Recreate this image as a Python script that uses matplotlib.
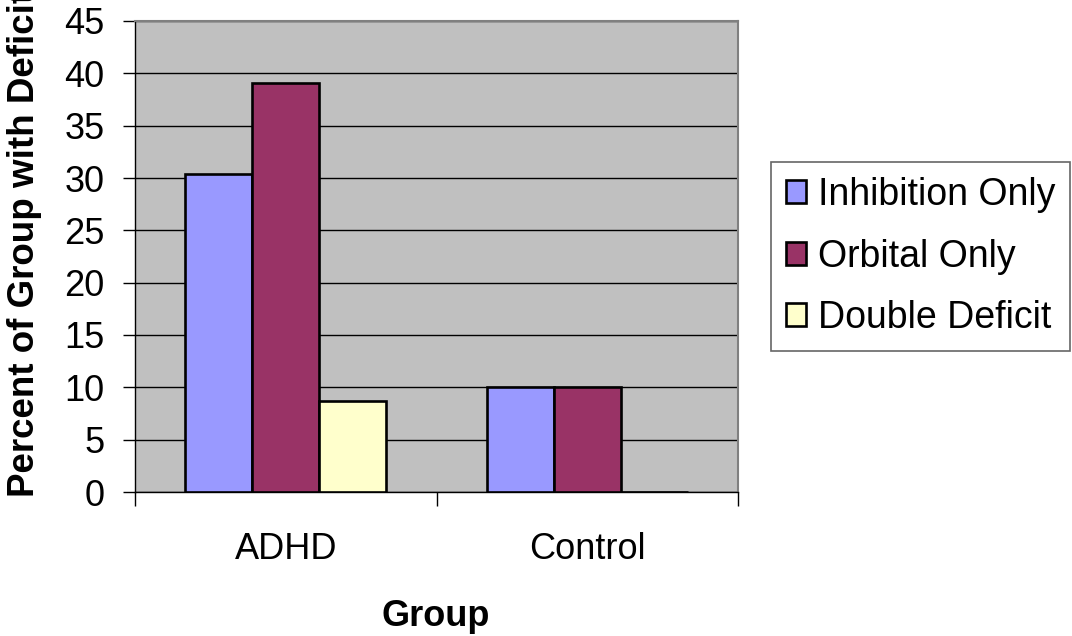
import matplotlib as mpl
import matplotlib.pyplot as plt
import numpy as np

groups = ["ADHD", "Control"]
series = ["Inhibition Only", "Orbital Only", "Double Deficit"]
inhibition = [30.4, 10.0]
orbital = [39.1, 10.0]
double_deficit = [8.7, 0.0]
yticks = [0, 5, 10, 15, 20, 25, 30, 35, 40, 45]

colors = ["#9999FF", "#993366", "#FFFFCC"]

plt.rcParams["font.family"] = ["Liberation Sans", "DejaVu Sans"]

fig = plt.figure(figsize=(10.72, 6.36), dpi=100)
ax = fig.add_axes([135 / 1072, 1 - 492 / 636, (738 - 135) / 1072, (492 - 21) / 636])
ax.set_facecolor("#C0C0C0")

# excel style: gap width 150% -> bar width 1/4.5 of a category
x = np.arange(len(groups))
w = 1 / 4.5
for i, (vals, name) in enumerate(zip([inhibition, orbital, double_deficit], series)):
    ax.bar(x + (i - 1) * w, vals, w, color=colors[i], edgecolor="black",
           linewidth=1.9, label=name, zorder=3)

ax.set_xlim(-0.5, len(groups) - 0.5)
ax.set_ylim(0, 45)
ax.set_yticks(yticks)
ax.tick_params(axis="y", direction="out", length=9, width=1, labelsize=26, pad=13)
ax.yaxis.grid(True, color="black", linewidth=1, zorder=1)

# category labels at centers, tick marks at the boundaries
ax.set_xticks(np.arange(len(groups) + 1) - 0.5)
ax.set_xticklabels([])
ax.tick_params(axis="x", which="major", direction="out", length=10, width=1)
ax.set_xticks(x, minor=True)
ax.set_xticklabels(groups, minor=True)
ax.tick_params(axis="x", which="minor", length=0, labelsize=26, pad=29)

for s in ["top", "right"]:
    ax.spines[s].set_color("#808080")
    ax.spines[s].set_linewidth(1.5)
for s in ["left", "bottom"]:
    ax.spines[s].set_color("black")
    ax.spines[s].set_linewidth(1)

fig.text(436 / 1072, 1 - 626 / 636, "Group", fontsize=26, fontweight="bold",
         ha="center", va="baseline")
fig.text(25 / 1072, 1 - 497 / 636, "Percent of Group with Deficit", rotation=90,
         fontsize=26.5, fontweight="bold", ha="center", va="bottom")

leg = fig.legend(loc="upper left", bbox_to_anchor=(771 / 1072, 1 - 162 / 636),
                 borderaxespad=0, fontsize=27, frameon=True, fancybox=False,
                 handlelength=0.52, handleheight=0.55, handletextpad=0.33,
                 labelspacing=0.68, borderpad=0.4)
leg.get_frame().set_edgecolor("#404040")
leg.get_frame().set_linewidth(1.2)

fig.savefig("out.png", dpi=100)
